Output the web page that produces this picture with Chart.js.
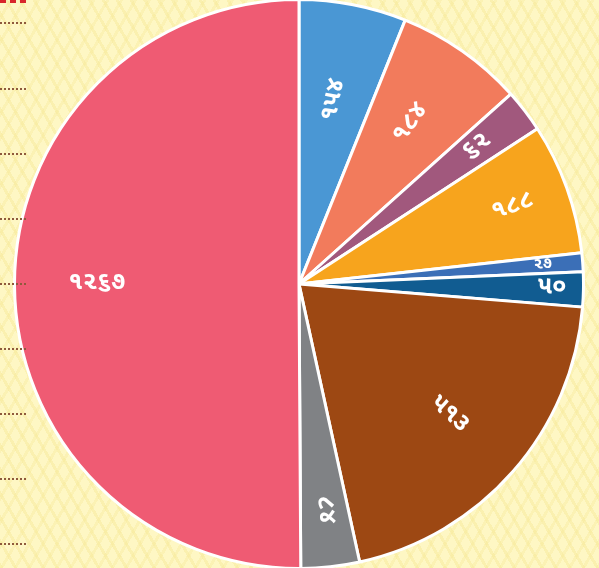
<!DOCTYPE html>
<html>
<head>
<meta charset="utf-8">
<script src="https://cdn.jsdelivr.net/npm/chart.js@4"></script>
<style>
html,body{margin:0;padding:0;}
body{width:599px;height:568px;overflow:hidden;position:relative;
  background-color:#fef7c4;
  background-image:repeating-linear-gradient(60deg,rgba(246,232,150,.45) 0 3px,transparent 3px 12px),
    repeating-linear-gradient(-60deg,rgba(246,232,150,.35) 0 3px,transparent 3px 12px);}
.dash{position:absolute;left:0;width:26px;border-top:2px dotted #8f5a3c;}
.dash.red{border-top:3px dashed #d8262b;top:0;}
#wrap{position:absolute;left:13px;top:-2px;width:572px;height:572px;}
</style>
</head>
<body>
<div class="dash red"></div>
<div id="wrap"><canvas id="pie" width="572" height="572"></canvas></div>
<script>
// category values (clockwise from 12 o'clock) and their printed labels
const values=[154,184,62,188,27,50,513,84,1267];
const valueLabels=['૧૫૪','૧૮૪','૬૨','૧૮૮','૨૭','૫૦','૫૧૩','૮૪','૧૨૬૭'];
const colors=['#4a97d4','#f27b5c','#a1587d','#f7a41d','#3b6fb7','#115c91','#9d4813','#808285','#ef5b73'];
const labelDist=[0.66,0.69,0.79,0.8,0.86,0.89,0.7,0.8,0.71];
const labelSize=[25,25,25,25,16,25,25,25,25];

[22,88,153,218,283,348,413,478,543].forEach(y=>{
  const d=document.createElement('div');d.className='dash';d.style.top=y+'px';document.body.appendChild(d);
});

const labelPlugin={
  id:'sliceLabels',
  afterDatasetsDraw(chart){
    const ctx=chart.ctx, meta=chart.getDatasetMeta(0);
    meta.data.forEach((arc,i)=>{
      const mid=(arc.startAngle+arc.endAngle)/2, r=arc.outerRadius*labelDist[i];
      const x=arc.x+Math.cos(mid)*r, y=arc.y+Math.sin(mid)*r;
      let rot=mid; // text baseline along the radius
      if(Math.cos(rot)<0) rot+=Math.PI;
      if(i===values.length-1) rot=0;
      ctx.save();
      ctx.translate(x,y);ctx.rotate(rot);
      ctx.fillStyle='#fff';ctx.textAlign='center';ctx.textBaseline='middle';
      ctx.font='bold '+labelSize[i]+'px "Noto Sans Gujarati","Noto Sans","DejaVu Sans",sans-serif';
      ctx.fillText(valueLabels[i],0,0);
      ctx.restore();
    });
  }
};

new Chart(document.getElementById('pie'),{
  type:'pie',
  data:{labels:valueLabels,datasets:[{data:values,backgroundColor:colors,borderColor:'#fff',borderWidth:3}]},
  options:{responsive:false,animation:false,maintainAspectRatio:false,
    layout:{padding:0},
    plugins:{legend:{display:false},tooltip:{enabled:false}}},
  plugins:[labelPlugin]
});
</script>
</body>
</html>
